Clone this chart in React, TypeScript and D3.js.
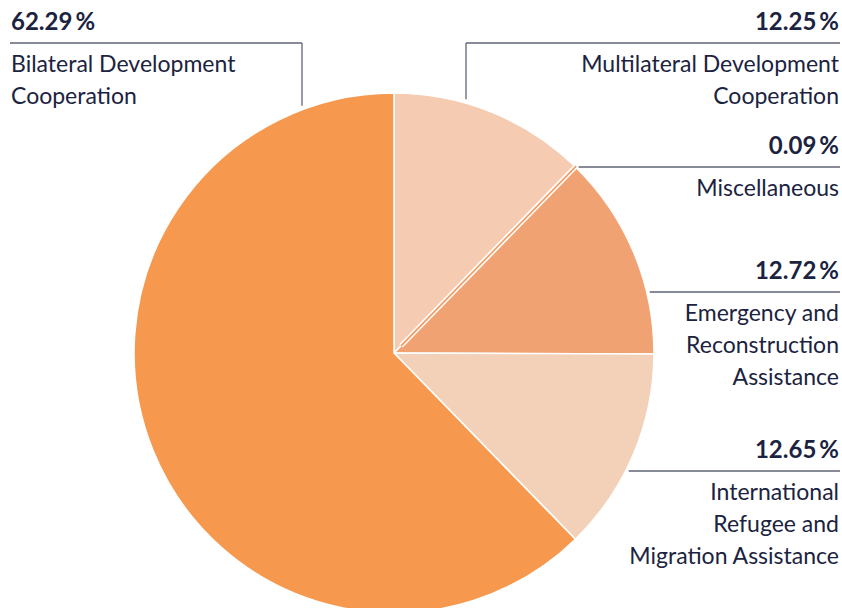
import React from "react";
import * as d3 from "d3";

const categories = [
  "Multilateral Development Cooperation",
  "Miscellaneous",
  "Emergency and Reconstruction Assistance",
  "International Refugee and Migration Assistance",
  "Bilateral Development Cooperation",
];
const values = [12.25, 0.09, 12.72, 12.65, 62.29];
const labelLines = [
  ["Multilateral Development", "Cooperation"],
  ["Miscellaneous"],
  ["Emergency and", "Reconstruction", "Assistance"],
  ["International", "Refugee and", "Migration Assistance"],
  ["Bilateral Development", "Cooperation"],
];
const colors = ["#f5cbb1", "#f29c62", "#f1a272", "#f3d1b8", "#f7984f"];

const W = 842;
const H = 608;
const cx = 394;
const cy = 353;
const R = 260;
const TEXT = "#1b2340";
const LINE = "#5f6575";
const FONT = "Lato, 'Open Sans', sans-serif";

// label layout: y of horizontal rule, side, optional vertical leg x
const layout = [
  { y: 43, side: "right", legX: 466 },
  { y: 167, side: "right" },
  { y: 292, side: "right" },
  { y: 471, side: "right" },
  { y: 43, side: "left", legX: 302 },
];

export default function App() {
  const pie = d3
    .pie<number>()
    .sort(null)
    .value((d) => d)
    .startAngle(0)
    .endAngle(2 * Math.PI);
  const arcs = pie(values);
  const arc = d3.arc<d3.PieArcDatum<number>>().innerRadius(0).outerRadius(R);

  const edgeX = (y: number, side: string) => {
    const dy = y - cy;
    const dx = Math.sqrt(Math.max(0, R * R - dy * dy));
    return side === "right" ? cx + dx : cx - dx;
  };
  const edgeY = (x: number) => {
    const dx = x - cx;
    return cy - Math.sqrt(Math.max(0, R * R - dx * dx));
  };

  // thin slices get a visible radial stroke in their own colour, flanked by white gaps
  const thin = arcs.filter((a) => a.endAngle - a.startAngle < 0.02);

  return (
    <svg width={W} height={H} style={{ position: "absolute", left: 0, top: 0 }}>
      <rect width={W} height={H} fill="#fff" />
      <g transform={`translate(${cx},${cy})`}>
        {arcs.map((a, i) => (
          <path
            key={categories[i]}
            d={arc(a) || ""}
            fill={colors[i]}
            stroke="#fff"
            strokeWidth={1.6}
            strokeLinejoin="round"
          />
        ))}
        {thin.map((a) => {
          const m = (a.startAngle + a.endAngle) / 2;
          const ux = Math.sin(m);
          const uy = -Math.cos(m);
          const px = Math.cos(m);
          const py = Math.sin(m);
          const r0 = 10;
          const r1 = R + 1;
          const seg = (off: number, color: string, w: number, k: string) => (
            <line
              key={k}
              x1={ux * r0 + px * off}
              y1={uy * r0 + py * off}
              x2={ux * r1 + px * off}
              y2={uy * r1 + py * off}
              stroke={color}
              strokeWidth={w}
            />
          );
          return (
            <g key={"thin" + a.index}>
              {seg(-1.7, "#fff", 1.5, "a")}
              {seg(1.7, "#fff", 1.5, "b")}
              {seg(0, colors[a.index], 1.6, "c")}
            </g>
          );
        })}
      </g>
      {layout.map((l, i) => {
        const right = l.side === "right";
        let x1: number, x2: number;
        if (right) {
          x1 = l.legX !== undefined ? l.legX : edgeX(l.y, "right") + 3;
          x2 = 840;
        } else {
          x1 = 10;
          x2 = l.legX as number;
        }
        const tx = right ? 839 : 11;
        const anchor = right ? "end" : "start";
        return (
          <g key={"lab" + i}>
            <line x1={x1} x2={x2} y1={l.y} y2={l.y} stroke={LINE} strokeWidth={1.3} />
            {l.legX !== undefined && (
              <line
                x1={l.legX}
                x2={l.legX}
                y1={l.y}
                y2={edgeY(l.legX) - 4}
                stroke={LINE}
                strokeWidth={1.3}
              />
            )}
            <text
              x={tx}
              y={l.y - 13}
              textAnchor={anchor}
              fontFamily={FONT}
              fontWeight={700}
              fontSize={24}
              fill={TEXT}
            >
              {values[i].toFixed(2) + "\u2009%"}
            </text>
            {labelLines[i].map((t, j) => (
              <text
                key={j}
                x={tx}
                y={l.y + 29 + j * 32}
                textAnchor={anchor}
                fontFamily={FONT}
                fontWeight={400}
                fontSize={23}
                fill={TEXT}
              >
                {t}
              </text>
            ))}
          </g>
        );
      })}
    </svg>
  );
}
